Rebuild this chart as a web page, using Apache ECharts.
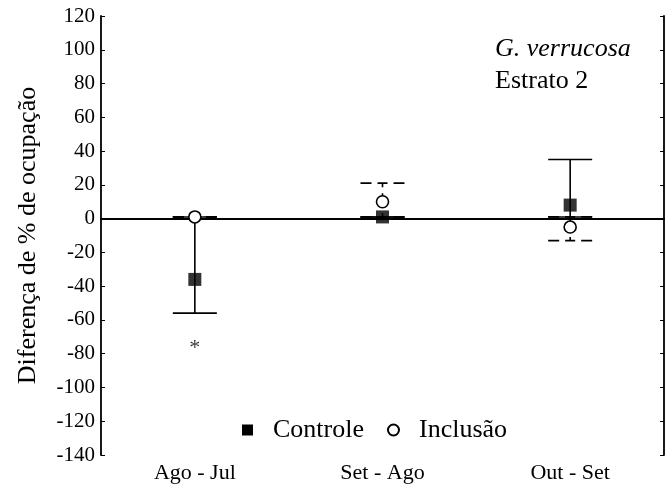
<!DOCTYPE html>
<html><head><meta charset="utf-8">
<script src="https://cdn.jsdelivr.net/npm/echarts@6/dist/echarts.min.js"></script>
<style>html,body{margin:0;padding:0;background:#fff}#c{width:672px;height:492px}</style>
</head><body><div id="c"></div>
<script>
var categories = ['Ago - Jul', 'Set - Ago', 'Out - Set'];
var controleMean = [-36, 1, 8];
var controleLow = [-56, 1, 1];
var controleHigh = [1, 1, 35];
var inclusaoMean = [1, 10, -5];
var inclusaoLow = [1, 1, -13];
var inclusaoHigh = [1, 21, 1];
var yTicks = {min: -140, max: 120, interval: 20};
var asterisk = [[0, -74]];
var FONT = '"Liberation Serif", "Times New Roman", serif';

function errData(low, high) {
  return categories.map(function (c, i) { return [i, low[i], high[i]]; });
}
function errRender(dash) {
  return function (params, api) {
    var x = api.value(0);
    var pLow = api.coord([x, api.value(1)]);
    var pHigh = api.coord([x, api.value(2)]);
    var hw = 22;
    var st = {stroke: '#000', lineWidth: 1.6};
    var stV = dash ? {stroke: '#000', lineWidth: 1.6, lineDash: [4, 6]} : st;
    var stC = dash ? {stroke: '#000', lineWidth: 1.8, lineDash: [11, 6, 10, 6, 11]} : st;
    return {type: 'group', children: [
      {type: 'line', shape: {x1: pHigh[0], y1: pHigh[1], x2: pLow[0], y2: pLow[1]}, style: stV},
      {type: 'line', shape: {x1: pHigh[0] - hw, y1: pHigh[1], x2: pHigh[0] + hw, y2: pHigh[1]}, style: stC},
      {type: 'line', shape: {x1: pLow[0] - hw, y1: pLow[1], x2: pLow[0] + hw, y2: pLow[1]}, style: stC}
    ]};
  };
}

var chart = echarts.init(document.getElementById('c'), null, {renderer: 'canvas'});
chart.setOption({
  animation: false,
  backgroundColor: '#fff',
  textStyle: {fontFamily: FONT},
  grid: {left: 101, right: 8, top: 16, bottom: 37},
  legend: {
    left: 237, top: 412, itemWidth: 11, itemHeight: 11, itemGap: 23,
    textStyle: {fontFamily: FONT, fontSize: 26, color: '#000', padding: [0, 0, 0, 15]},
    data: [
      {name: 'Controle', icon: 'rect'},
      {name: 'Inclusão', icon: 'circle'}
    ]
  },
  xAxis: [{
    type: 'category', data: categories, boundaryGap: true,
    axisLine: {lineStyle: {color: '#000', width: 1.8}},
    axisTick: {inside: true, alignWithLabel: true, length: 4, lineStyle: {color: '#000'}},
    axisLabel: {color: '#000', fontFamily: FONT, fontSize: 22, margin: 7}
  }, {
    type: 'category', data: categories, position: 'top', boundaryGap: true,
    axisLine: {lineStyle: {color: '#000', width: 1.8}},
    axisTick: {show: false}, axisLabel: {show: false}
  }],
  yAxis: [{
    type: 'value', min: yTicks.min, max: yTicks.max, interval: yTicks.interval,
    name: 'Diferença de % de ocupação', nameLocation: 'middle', nameGap: 60,
    nameTextStyle: {color: '#000', fontFamily: FONT, fontSize: 26},
    axisLine: {show: true, lineStyle: {color: '#000', width: 1.8}},
    axisTick: {show: true, inside: true, length: 4, lineStyle: {color: '#000'}},
    axisLabel: {color: '#000', fontFamily: FONT, fontSize: 21, margin: 6},
    splitLine: {show: false}
  }, {
    type: 'value', min: yTicks.min, max: yTicks.max, interval: yTicks.interval, position: 'right',
    axisLine: {show: true, lineStyle: {color: '#000', width: 1.8}},
    axisTick: {show: true, inside: true, length: 4, lineStyle: {color: '#000'}},
    axisLabel: {show: false}, splitLine: {show: false}
  }],
  series: [
    {
      type: 'line', data: [], silent: true,
      markLine: {silent: true, symbol: 'none', label: {show: false},
        lineStyle: {color: '#000', width: 1.6, type: 'solid'}, data: [{yAxis: 0}]}
    },
    {type: 'custom', name: 'Controle', renderItem: errRender(false), data: errData(controleLow, controleHigh), z: 2, itemStyle: {color: '#000'}},
    {type: 'custom', name: 'Inclusão', renderItem: errRender(true), data: errData(inclusaoLow, inclusaoHigh), z: 2, itemStyle: {color: '#fff', borderColor: '#000', borderWidth: 1.6}},
    {type: 'scatter', name: 'Controle', symbol: 'rect', symbolSize: 13, data: controleMean.map(function (v, i) { return [i, v]; }), itemStyle: {color: '#000'}, z: 5},
    {type: 'scatter', name: 'Inclusão', symbol: 'circle', symbolSize: 12, data: inclusaoMean.map(function (v, i) { return [i, v]; }), itemStyle: {color: '#fff', borderColor: '#000', borderWidth: 1.6, opacity: 1}, z: 6},
    {type: 'scatter', symbol: 'circle', symbolSize: 1, data: asterisk, silent: true,
      itemStyle: {color: 'rgba(0,0,0,0)'},
      label: {show: true, formatter: '*', position: 'inside', color: '#000', fontFamily: FONT, fontSize: 22, offset: [0, 5]}}
  ],
  graphic: [
    {type: 'text', left: 495, top: 36, style: {text: 'G. verrucosa', font: 'italic 26px "Liberation Serif", serif', fill: '#000'}},
    {type: 'text', left: 495, top: 68, style: {text: 'Estrato 2', font: '26px "Liberation Serif", serif', fill: '#000'}}
  ]
});
</script></body></html>
